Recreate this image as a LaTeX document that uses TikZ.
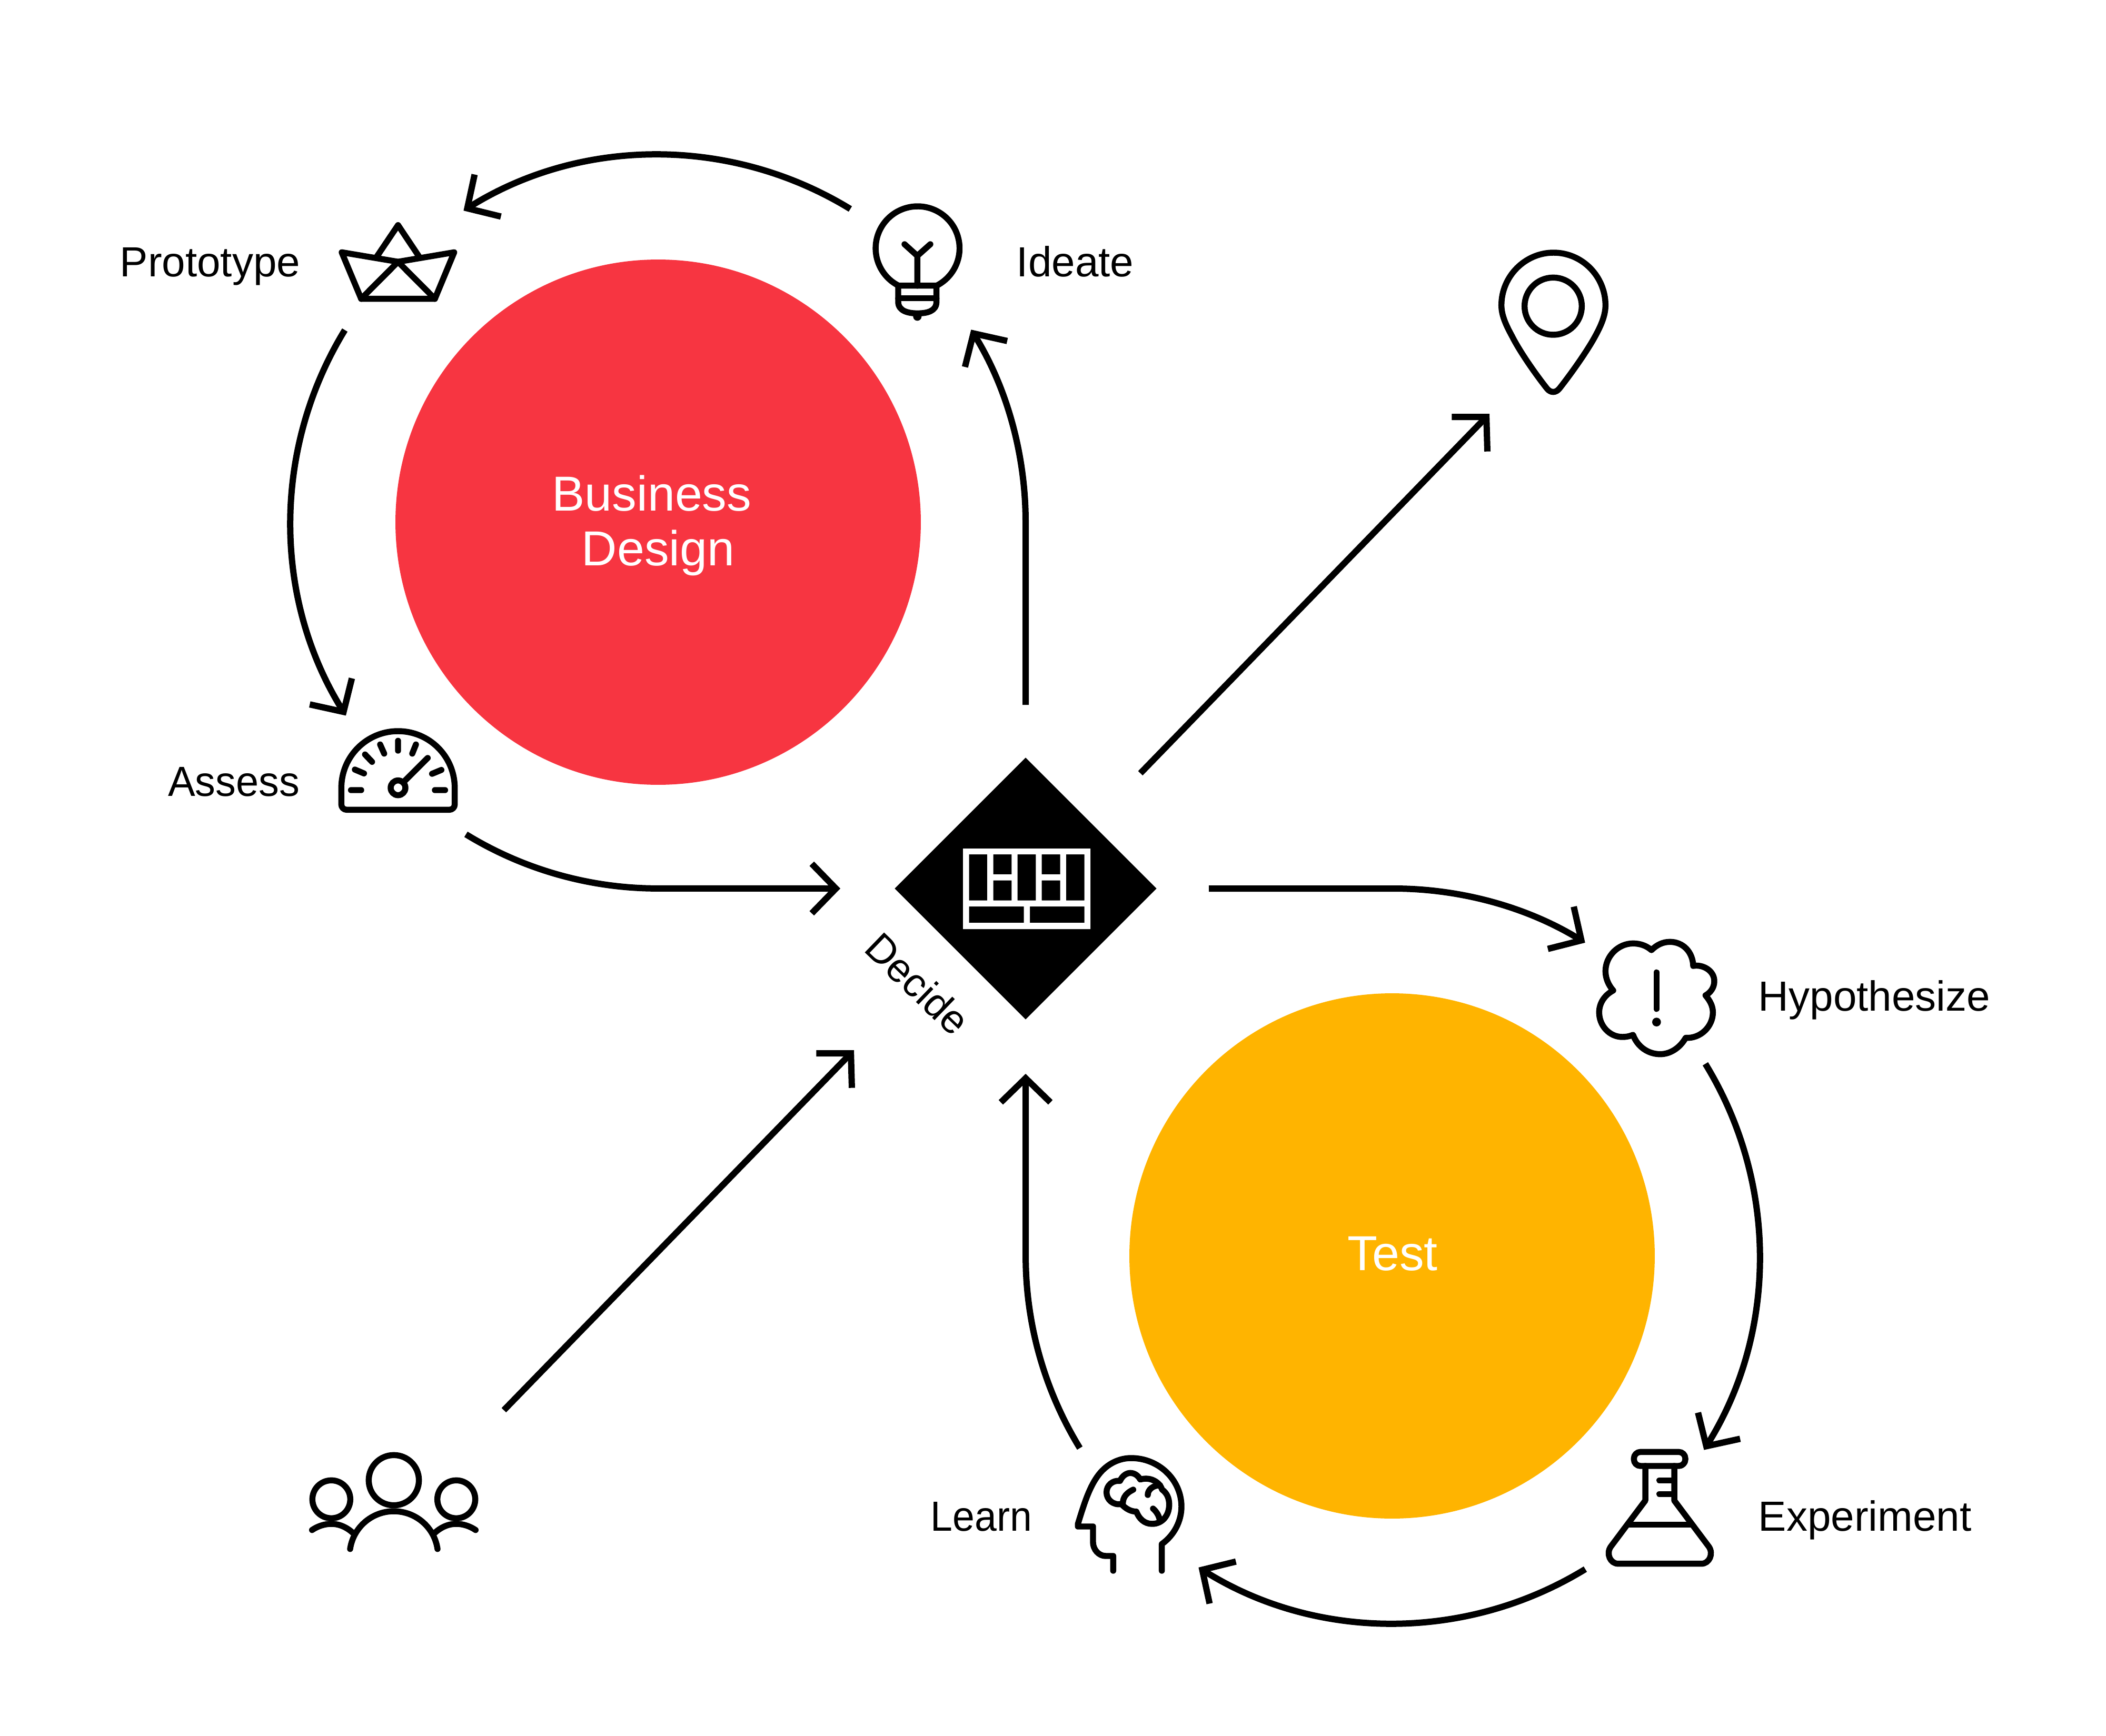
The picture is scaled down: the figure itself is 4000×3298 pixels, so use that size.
\documentclass[tikz,border=0pt]{standalone}
\usepackage{fontspec}
\setmainfont{Liberation Sans}
\usetikzlibrary{arrows.meta,shapes.geometric}
\definecolor{redc}{HTML}{F73541}
\definecolor{yelc}{HTML}{FFB400}
\tikzset{
  flow/.style={line width=2.88pt,-{Straight Barb[length=11pt,width=22.6pt]},line cap=butt},
  ico/.style={line width=2.75pt,line cap=round,line join=round},
  zoomat/.style 2 args={shift={(#1,#2)},x=.08pt,y=-.08pt},
  blob/.style={circle,fill=#1,inner sep=0pt,minimum size=239.5pt},
  lab/.style={font=\fontsize{19.2pt}{23pt}\selectfont,inner sep=0pt},
  big/.style={font=\fontsize{22.4pt}{26pt}\selectfont,text=white,inner sep=0pt}
}
\begin{document}
\begin{tikzpicture}[x=.24pt,y=-.24pt]
\useasboundingbox (0,0) rectangle (4000,3298);
\fill[white] (0,0) rectangle (4000,3298);
% circles
\node[blob=redc] (red) at (1250,992) {};
\node[blob=yelc] (yel) at (2644,2386) {};
\node[big,anchor=base] (bus) at (1238,970) {Business};
\node[big,anchor=base] (des) at (1250,1074) {Design};
\node[big,anchor=base] (tst) at (2645,2413) {Test};
% decide
\node[diamond,aspect=1,fill=black,inner sep=0pt,minimum width=119.5pt,minimum height=119.5pt] (dec) at (1948,1688) {};
\begin{scope}[shift={(1829,1612)}]
\fill[white,even odd rule] (0,0) rectangle (242,153)
 (11.6,11.2) rectangle (46.2,98.6)
 (57.5,11.2) rectangle (92.4,49) (57.5,60.7) rectangle (92.4,98.6)
 (103.7,11.2) rectangle (138.3,98.6)
 (149.6,11.2) rectangle (184.5,49) (149.6,60.7) rectangle (184.5,98.6)
 (195.8,11.2) rectangle (230.7,98.6)
 (11.6,110) rectangle (115.5,141) (127,110) rectangle (230.7,141);
\end{scope}
\node[lab,rotate=-44,anchor=center,font=\fontsize{18.4pt}{21pt}\selectfont] (dlab) at (1743,1869) {Decide};
% labels
\node[lab,anchor=base east] (lpro) at (571,525) {Prototype};
\node[lab,anchor=base west] (lide) at (1930,525) {Ideate};
\node[lab,anchor=base east,xscale=.97] (lass) at (570,1512) {Assess};
\node[lab,anchor=base west] (lhyp) at (3339,1920) {Hypothesize};
\node[lab,anchor=base west] (lexp) at (3339,2908) {Experiment};
\node[lab,anchor=base east,xscale=.94] (llea) at (1961,2908) {Learn};
% connector ends
\coordinate (a1) at (1948,1339); \coordinate (a1m) at (1948,992);
\coordinate (a2) at (1615,397);
\coordinate (a3) at (655,627);
\coordinate (a4) at (885,1585); \coordinate (a4e) at (1596,1688);
\coordinate (a5) at (2166,1469); \coordinate (a5e) at (2829,786);
\coordinate (a6) at (2296,1688); \coordinate (a6m) at (2646,1688);
\coordinate (a7) at (3239,2021);
\coordinate (a8) at (3011,2981);
\coordinate (a9) at (2051,2751); \coordinate (a9e) at (1948,2040);
\coordinate (a10) at (957,2679); \coordinate (a10e) at (1622,1995);
\draw[flow] (a1) -- (a1m) arc[start angle=0,end angle=-31.6,radius=698];
\draw[flow] (a2) arc[start angle=-58.5,end angle=-122,radius=698];
\draw[flow] (a3) arc[start angle=-148.5,end angle=-211.8,radius=698];
\draw[flow] (a4) arc[start angle=121.5,end angle=90,radius=698] -- (a4e);
\draw[flow] (a5) -- (a5e);
\draw[flow] (a6) -- (a6m) arc[start angle=-90,end angle=-58.5,radius=698];
\draw[flow] (a7) arc[start angle=-31.5,end angle=31.9,radius=698];
\draw[flow] (a8) arc[start angle=58.5,end angle=122,radius=698];
\draw[flow] (a9) arc[start angle=148.5,end angle=180,radius=698] -- (a9e);
\draw[flow] (a10) -- (a10e);
% boat
\begin{scope}[zoomat={600}{380},ico]
\draw (147,298) -- (468,352) -- (788,298) -- (678,563) -- (258,563) -- cycle;
\draw (258,563) -- (468,352) -- (678,563);
\draw (342,330) -- (468,143) -- (593,330);
\end{scope}
% bulb
\begin{scope}[zoomat={1620}{360},ico]
\draw (258,548) -- (476,548) (260,548) arc[start angle=117,end angle=423,radius=239];
\draw (258,548) -- (258,640) .. controls (258,695) and (320,706) .. (367,706) .. controls (420,706) and (476,695) .. (476,640) -- (476,548);
\draw (258,620) -- (476,620);
\fill (367,724) circle[radius=24];
\draw (367,548) -- (367,378) (294,312) -- (367,378) -- (441,312);
\end{scope}
% gauge
\begin{scope}[zoomat={620}{1360},ico]
\draw (85,410) arc[start angle=180,end angle=360,radius=323] -- (731,505) arc[start angle=0,end angle=90,radius=30] -- (115,535) arc[start angle=90,end angle=180,radius=30] -- cycle;
\draw (140,423) -- (198,423) (162,306) -- (214,328) (220,220) -- (260,262) (306,163) -- (329,215) (408,142) -- (408,198) (510,163) -- (489,215) (602,330) -- (655,308) (618,423) -- (676,423);
\draw (408,410) circle[radius=42];
\draw (445,372) -- (577,240);
\end{scope}
% pin
\begin{scope}[zoomat={2830}{460},ico]
\draw (362,60) .. controls (525,60) and (658,195) .. (658,360) .. controls (658,420) and (630,480) .. (600,535) .. controls (560,610) and (470,740) .. (395,835) .. controls (375,860) and (345,860) .. (325,835) .. controls (250,740) and (165,615) .. (125,535) .. controls (95,480) and (65,420) .. (65,360) .. controls (65,195) and (200,60) .. (362,60) -- cycle;
\draw (360,365) circle[radius=163];
\end{scope}
% cloud
\begin{scope}[zoomat={3000}{1760},ico]
\draw (410,135) .. controls (440,105) and (475,88) .. (515,88) .. controls (590,88) and (645,145) .. (648,225)
 .. controls (700,215) and (768,250) .. (768,312) .. controls (768,350) and (745,378) .. (718,393)
 .. controls (745,425) and (760,455) .. (760,490) .. controls (760,570) and (690,640) .. (605,635)
 .. controls (570,695) and (515,728) .. (460,728) .. controls (390,728) and (330,685) .. (305,618)
 .. controls (280,628) and (260,630) .. (245,630) .. controls (170,630) and (112,565) .. (112,490) .. controls (112,435) and (145,390) .. (192,365)
 .. controls (165,335) and (148,295) .. (148,255) .. controls (148,170) and (220,97) .. (305,97) .. controls (345,97) and (382,110) .. (410,135) -- cycle;
\draw (439,262) -- (439,470);
\fill (439,545) circle[radius=25];
\end{scope}
% flask
\begin{scope}[zoomat={3020}{2730},ico]
\draw[rounded corners=3pt] (250,85) rectangle (543,165);
\draw (315,165) -- (315,362) -- (118,625) .. controls (90,665) and (115,722) .. (160,722) -- (635,722) .. controls (680,722) and (705,665) .. (677,625) -- (480,362) -- (480,165);
\draw (222,500) -- (570,500) (395,247) -- (480,247) (395,325) -- (480,325);
\end{scope}
% head
\begin{scope}[zoomat={2020}{2740},ico]
\draw (283,732) -- (283,648) -- (240,648) .. controls (200,648) and (168,610) .. (168,570) -- (168,480) -- (82,480) -- (82,465) .. controls (120,340) and (150,250) .. (200,185) .. controls (250,120) and (320,90) .. (385,90) .. controls (540,90) and (670,210) .. (672,365) .. controls (672,450) and (630,530) .. (560,580) -- (560,732);
\draw (322,220) .. controls (335,190) and (360,175) .. (380,175) .. controls (405,175) and (425,190) .. (437,212) .. controls (460,205) and (490,205) .. (515,218) .. controls (540,230) and (555,250) .. (562,270) .. controls (590,290) and (602,320) .. (602,355) .. controls (602,420) and (560,465) .. (505,465) .. controls (460,465) and (430,435) .. (415,395) .. controls (385,395) and (355,380) .. (330,352) .. controls (280,360) and (245,325) .. (245,285) .. controls (245,245) and (280,215) .. (322,220) -- cycle;
\draw (397,270) .. controls (365,285) and (335,310) .. (338,355);
\draw (480,300) .. controls (480,270) and (510,245) .. (550,245);
\draw (510,378) .. controls (530,395) and (545,420) .. (548,445);
\end{scope}
% people
\begin{scope}[zoomat={570}{2740},ico]
\draw (534,216) circle[radius=143];
\draw (178,325) circle[radius=108] (890,325) circle[radius=108];
\draw (285,608) arc[start angle=188.4,end angle=351.6,radius=251.7];
\draw (68,500) .. controls (100,478) and (140,465) .. (178,465) .. controls (230,465) and (275,490) .. (310,525);
\draw (1000,500) .. controls (968,478) and (928,465) .. (890,465) .. controls (838,465) and (793,490) .. (758,525);
\end{scope}
\end{tikzpicture}
\end{document}
